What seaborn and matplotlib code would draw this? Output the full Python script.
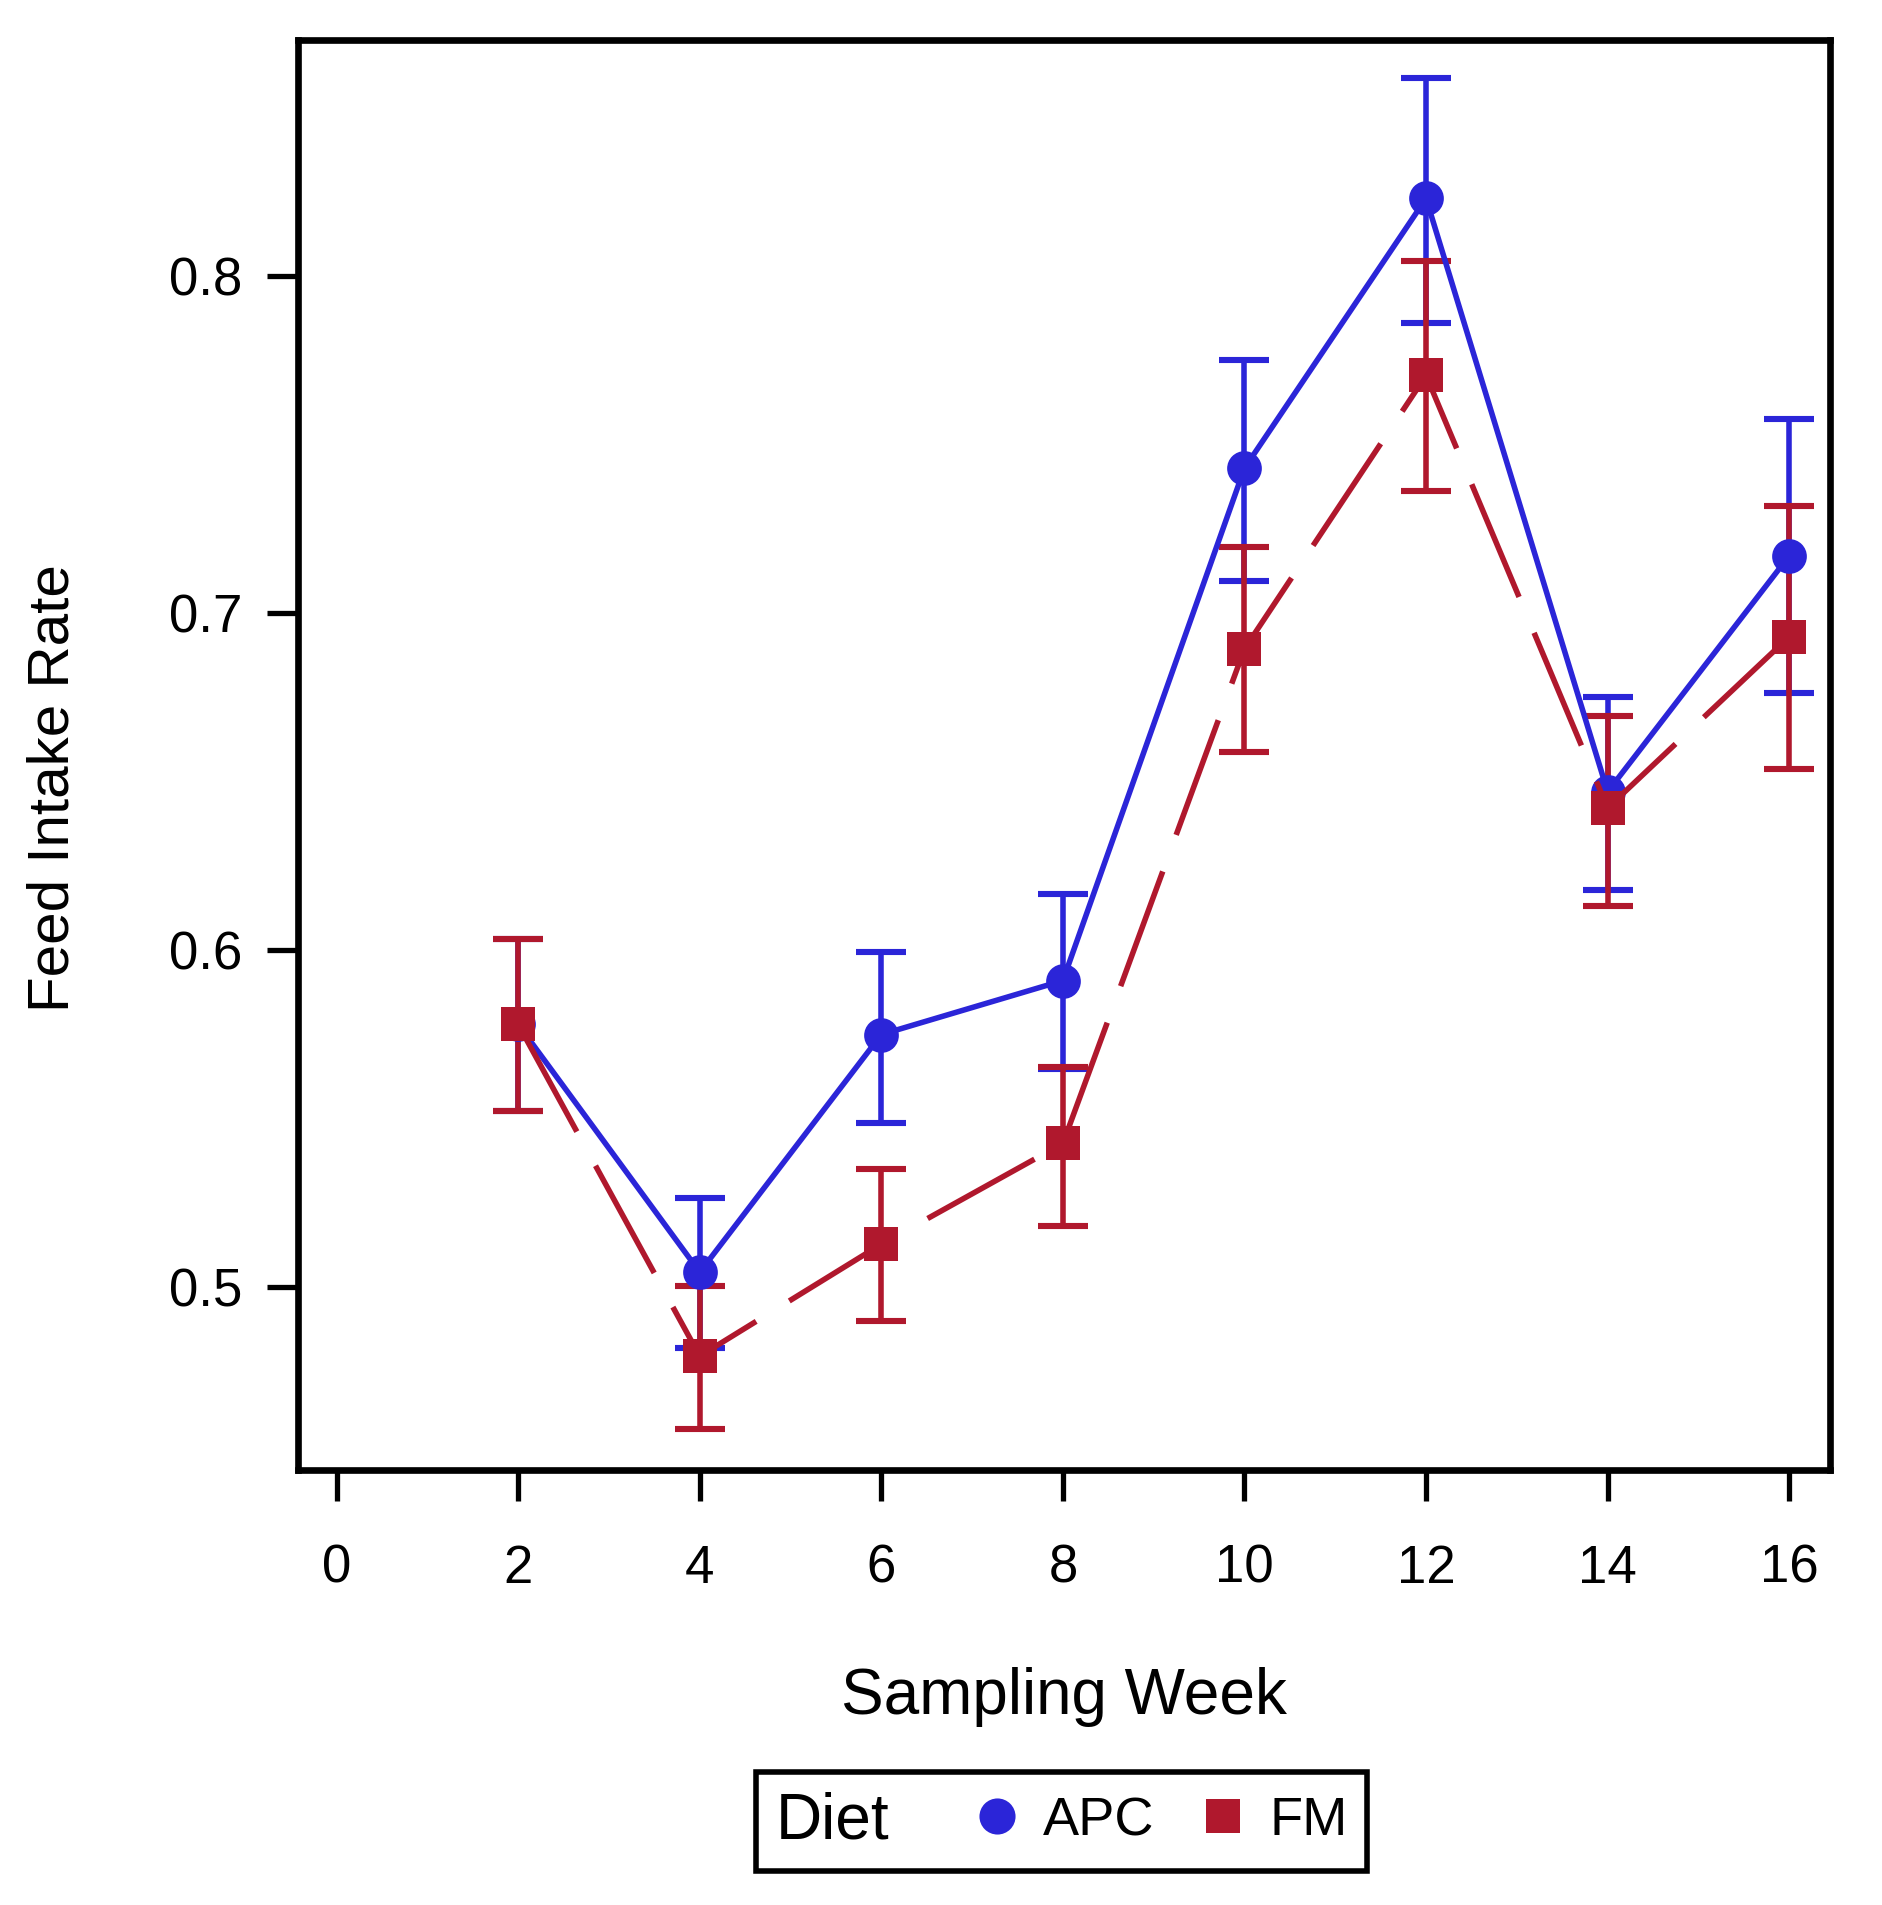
import numpy as np
import pandas as pd
import matplotlib
matplotlib.use('Agg')
import matplotlib.pyplot as plt
import seaborn as sns
from matplotlib.lines import Line2D
from matplotlib.offsetbox import HPacker

# values
weeks = [2, 4, 6, 8, 10, 12, 14, 16]
apc_mean = [0.578, 0.5045, 0.575, 0.591, 0.743, 0.823, 0.647, 0.717]
apc_low = [0.5524, 0.482, 0.5488, 0.5647, 0.7096, 0.786, 0.618, 0.6764]
apc_high = [0.6032, 0.5265, 0.5996, 0.6166, 0.7751, 0.8587, 0.675, 0.7575]
fm_mean = [0.578, 0.4796, 0.5128, 0.5427, 0.6894, 0.7705, 0.6422, 0.693]
fm_low = [0.5524, 0.458, 0.4901, 0.5182, 0.6587, 0.7362, 0.613, 0.6537]
fm_high = [0.6032, 0.5005, 0.5351, 0.5654, 0.7196, 0.8043, 0.6696, 0.7319]

diets = ['APC', 'FM']
colors = {'APC': '#2B25D8', 'FM': '#B0182D'}

df = pd.DataFrame({
    'Week': weeks * 2,
    'Rate': apc_mean + fm_mean,
    'Low': apc_low + fm_low,
    'High': apc_high + fm_high,
    'Diet': ['APC'] * len(weeks) + ['FM'] * len(weeks),
})

sns.set_style('white')
plt.rcParams['font.family'] = ['Liberation Sans', 'DejaVu Sans']
plt.rcParams['text.color'] = 'black'
plt.rcParams['axes.labelcolor'] = 'black'
plt.rcParams['xtick.color'] = 'black'
plt.rcParams['ytick.color'] = 'black'

fig, ax = plt.subplots(figsize=(18.82, 19.05), dpi=100)
fig.subplots_adjust(left=0.1583, right=0.9724, top=0.979, bottom=0.2283)

# error bars first, markers sit on top of them
for d in diets:
    sub = df[df['Diet'] == d]
    ax.errorbar(sub['Week'], sub['Rate'],
                yerr=[sub['Rate'] - sub['Low'], sub['High'] - sub['Rate']],
                fmt='none', ecolor=colors[d], elinewidth=4, capsize=18,
                capthick=4.4, zorder=2)

sns.lineplot(data=df, x='Week', y='Rate', hue='Diet', style='Diet',
             hue_order=diets, style_order=diets, palette=colors,
             markers={'APC': 'o', 'FM': 's'},
             dashes={'APC': '', 'FM': (22, 7)},
             linewidth=4, markersize=25, markeredgewidth=0,
             legend=False, ax=ax, zorder=3)

ax.set_xlim(-0.426, 16.45)
ax.set_ylim(0.4458, 0.870)
ax.set_xticks(range(0, 17, 2))
ax.set_yticks([0.5, 0.6, 0.7, 0.8])
ax.set_yticklabels(['0.5', '0.6', '0.7', '0.8'])

for sp in ax.spines.values():
    sp.set_linewidth(4.8)
    sp.set_color('black')
    sp.set_visible(True)

ax.tick_params(axis='both', direction='out', length=22, width=3.8,
               colors='black', labelsize=38)
ax.tick_params(axis='x', pad=31, bottom=True)
ax.tick_params(axis='y', pad=18, left=True)

ax.set_xlabel('Sampling Week', fontsize=46)
ax.set_ylabel('Feed Intake Rate', fontsize=42)
ax.xaxis.set_label_coords(0.5, -0.138)
ax.yaxis.set_label_coords(-0.142, 0.477)

handles = [Line2D([], [], color=colors['APC'], marker='o', linestyle='none', markersize=26, markeredgewidth=0),
           Line2D([], [], color=colors['FM'], marker='s', linestyle='none', markersize=24, markeredgewidth=0)]
leg = fig.legend(handles, diets, loc='center', bbox_to_anchor=(0.564, 0.044),
                 ncol=2, title='Diet', fontsize=39, title_fontsize=46,
                 frameon=True, fancybox=False, edgecolor='black', framealpha=1,
                 handlelength=1.0, handletextpad=0.35, columnspacing=0.76,
                 labelspacing=1.5, borderpad=0.36)
leg.get_frame().set_linewidth(4)
# put the title to the left of the entries
leg._legend_box.__class__ = HPacker
leg._legend_box.align = 'center'

fig.savefig('out.png', dpi=100)
